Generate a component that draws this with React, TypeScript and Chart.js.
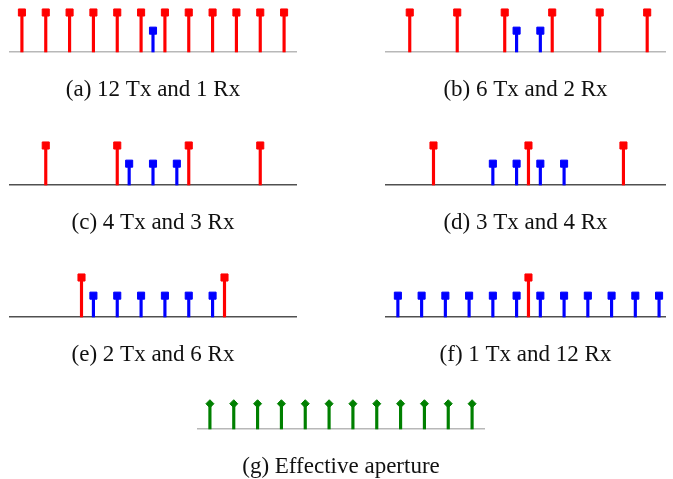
import React, { useEffect, useRef } from "react";
import { Chart, registerables } from "chart.js";

Chart.register(...registerables);

// ---- data (element positions in half-wavelength units, centred on the array) ----
const txA = [-5.5, -4.5, -3.5, -2.5, -1.5, -0.5, 0.5, 1.5, 2.5, 3.5, 4.5, 5.5];
const rxA = [0];
const txB = [-5, -3, -1, 1, 3, 5];
const rxB = [-0.5, 0.5];
const txC = [-4.5, -1.5, 1.5, 4.5];
const rxC = [-1, 0, 1];
const txD = [-4, 0, 4];
const rxD = [-1.5, -0.5, 0.5, 1.5];
const txE = [-3, 3];
const rxE = [-2.5, -1.5, -0.5, 0.5, 1.5, 2.5];
const txF = [0];
const rxF = [-5.5, -4.5, -3.5, -2.5, -1.5, -0.5, 0.5, 1.5, 2.5, 3.5, 4.5, 5.5];
const effG = [-5.5, -4.5, -3.5, -2.5, -1.5, -0.5, 0.5, 1.5, 2.5, 3.5, 4.5, 5.5];

const TX_HEIGHT = 1;
const RX_HEIGHT = 0.54;
const EFF_HEIGHT = 0.64;

const captions = [
  "(a) 12 Tx and 1 Rx",
  "(b) 6 Tx and 2 Rx",
  "(c) 4 Tx and 3 Rx",
  "(d) 3 Tx and 4 Rx",
  "(e) 2 Tx and 6 Rx",
  "(f) 1 Tx and 12 Rx",
  "(g) Effective aperture",
];

const RED = "#ff0000";
const BLUE = "#0000ff";
const GREEN = "#008000";
const LIGHT_AXIS = "#b8b8b8";
const DARK_AXIS = "#505050";

type PanelCfg = {
  caption: string;
  tx: number[];
  rx: number[];
  eff: number[];
  left: number;
  baseline: number;
  width: number;
  xMin: number;
  xMax: number;
  axisColor: string;
};

const PLOT_H = 50;
const FONT_SIZE = 23;
const TITLE_PAD_TOP = 26;
const TITLE_PAD_BOTTOM = 1;
const AXIS_H = FONT_SIZE + TITLE_PAD_TOP + TITLE_PAD_BOTTOM;

const SQ_RADIUS = 5;
const SQ_BORDER = 1;
const DIA_RADIUS = 4;
const DIA_BORDER = 1;

const panels: PanelCfg[] = [
  { caption: captions[0], tx: txA, rx: rxA, eff: [], left: 10, baseline: 52, width: 286, xMin: -6, xMax: 6, axisColor: LIGHT_AXIS },
  { caption: captions[1], tx: txB, rx: rxB, eff: [], left: 386, baseline: 52, width: 279, xMin: -6, xMax: 5.75, axisColor: LIGHT_AXIS },
  { caption: captions[2], tx: txC, rx: rxC, eff: [], left: 10, baseline: 185, width: 286, xMin: -6, xMax: 6, axisColor: DARK_AXIS },
  { caption: captions[3], tx: txD, rx: rxD, eff: [], left: 386, baseline: 185, width: 279, xMin: -6, xMax: 5.75, axisColor: DARK_AXIS },
  { caption: captions[4], tx: txE, rx: rxE, eff: [], left: 10, baseline: 317, width: 286, xMin: -6, xMax: 6, axisColor: DARK_AXIS },
  { caption: captions[5], tx: txF, rx: rxF, eff: [], left: 386, baseline: 317, width: 279, xMin: -6, xMax: 5.75, axisColor: DARK_AXIS },
  { caption: captions[6], tx: [], rx: [], eff: effG, left: 198, baseline: 429, width: 286, xMin: -6, xMax: 6, axisColor: LIGHT_AXIS },
];

function markerSet(xs: number[], h: number, color: string, style: string, radius: number, border: number) {
  return {
    type: "scatter" as const,
    data: xs.map((x) => ({ x, y: h })),
    pointStyle: style,
    pointRadius: radius,
    pointHoverRadius: radius,
    pointBackgroundColor: color,
    pointBorderColor: color,
    pointBorderWidth: border,
    showLine: false,
    clip: false as any,
  };
}

function stemSet(xs: number[], h: number, color: string) {
  return {
    type: "bar" as const,
    data: xs.map((x) => ({ x, y: h })),
    backgroundColor: color,
    borderWidth: 0,
    barThickness: 2.5,
    grouped: false,
    clip: false as any,
  };
}

function Panel({ cfg }: { cfg: PanelCfg }) {
  const ref = useRef<HTMLCanvasElement | null>(null);
  // Chart.js insets the plot area by the marker overflow (radius + border)
  const pad = cfg.eff.length ? DIA_RADIUS + DIA_BORDER : SQ_RADIUS + SQ_BORDER;
  const cw = cfg.width + 2 * pad;
  const ch = pad + PLOT_H + AXIS_H;
  useEffect(() => {
    if (!ref.current) return;
    const datasets: any[] = [];
    if (cfg.tx.length) datasets.push(markerSet(cfg.tx, TX_HEIGHT, RED, "rect", SQ_RADIUS, SQ_BORDER));
    if (cfg.rx.length) datasets.push(markerSet(cfg.rx, RX_HEIGHT, BLUE, "rect", SQ_RADIUS, SQ_BORDER));
    if (cfg.eff.length) datasets.push(markerSet(cfg.eff, EFF_HEIGHT, GREEN, "rectRot", DIA_RADIUS, DIA_BORDER));
    if (cfg.tx.length) datasets.push(stemSet(cfg.tx, TX_HEIGHT, RED));
    if (cfg.rx.length) datasets.push(stemSet(cfg.rx, RX_HEIGHT, BLUE));
    if (cfg.eff.length) datasets.push(stemSet(cfg.eff, EFF_HEIGHT, GREEN));

    const chart = new Chart(ref.current, {
      type: "bar",
      data: { datasets },
      options: {
        animation: false,
        responsive: false,
        events: [],
        layout: { padding: 0 },
        plugins: { legend: { display: false }, tooltip: { enabled: false } },
        scales: {
          x: {
            type: "linear",
            min: cfg.xMin,
            max: cfg.xMax,
            offset: false,
            grid: { display: false, drawTicks: false },
            ticks: { display: false },
            border: { display: true, color: cfg.axisColor, width: 1.5 },
            title: {
              display: true,
              text: cfg.caption,
              color: "#111",
              font: { family: "'Liberation Serif', serif", size: FONT_SIZE, lineHeight: 1 },
              padding: { top: TITLE_PAD_TOP, bottom: TITLE_PAD_BOTTOM },
            },
          },
          y: {
            type: "linear",
            display: false,
            min: 0,
            max: PLOT_H / 39.5,
          },
        },
      } as any,
    });
    return () => chart.destroy();
  }, [cfg]);
  return (
    <div style={{ position: "absolute", left: cfg.left - pad, top: cfg.baseline - PLOT_H - pad, width: cw, height: ch }}>
      <canvas ref={ref} width={cw} height={ch} style={{ width: cw, height: ch, display: "block" }} />
    </div>
  );
}

export default function App() {
  return (
    <div style={{ position: "fixed", left: 0, top: 0, width: 673, height: 479, background: "#fff", overflow: "hidden" }}>
      {panels.map((p, i) => (
        <Panel key={i} cfg={p} />
      ))}
    </div>
  );
}
